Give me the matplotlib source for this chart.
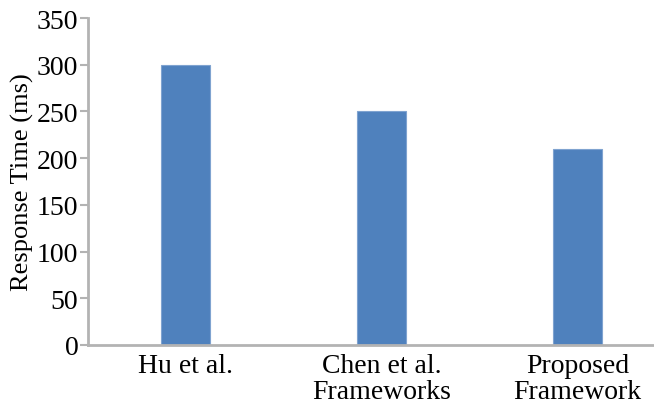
import matplotlib.pyplot as plt

methods = ["Hu et al.", "Chen et al.\nFrameworks", "Proposed\nFramework"]
response_ms = [300, 250, 210]
y_ticks = [0, 50, 100, 150, 200, 250, 300, 350]

plt.rcParams['font.family'] = ['Liberation Serif', 'DejaVu Serif']

fig = plt.figure(figsize=(6.54, 4.06), dpi=100)
ax = fig.add_axes([0.1346, 0.1478, 0.8654, 0.8052])

ax.bar(range(len(methods)), response_ms, width=0.25, color='#4F81BD',
       edgecolor='#7FA3D0', linewidth=0.8, zorder=2)

ax.set_xlim(-0.5, 2.39)
ax.set_ylim(0, 350)
ax.set_yticks(y_ticks)
ax.set_yticklabels([str(v) for v in y_ticks], fontsize=20)
ax.set_xticks(range(len(methods)))
ax.set_xticklabels(methods, fontsize=20, linespacing=1.05)
ax.tick_params(axis='x', length=0, pad=6)
ax.tick_params(axis='y', length=6, width=1.5, color='#b3b3b3', pad=1)
ax.set_ylabel("Response Time (ms)", fontsize=19, labelpad=2)

for side in ['top', 'right']:
    ax.spines[side].set_visible(False)
for side in ['left', 'bottom']:
    ax.spines[side].set_color('#b3b3b3')
    ax.spines[side].set_linewidth(2)

fig.savefig("out.png", dpi=100)
